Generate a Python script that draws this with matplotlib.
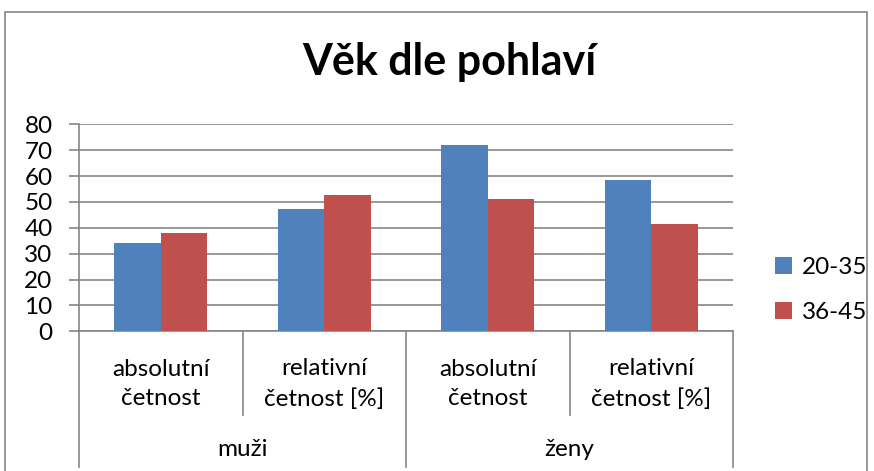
import matplotlib
matplotlib.use("Agg")
import matplotlib.pyplot as plt
from matplotlib.patches import Rectangle
from matplotlib.transforms import blended_transform_factory

plt.rcParams['font.family'] = ['Lato', 'DejaVu Sans']

# data
groups = ["muži", "ženy"]
subcats = ["absolutní\nčetnost", "relativní\nčetnost [%]"]
series_names = ["20-35", "36-45"]
vals_20_35 = [34, 47.2, 72, 58.5]
vals_36_45 = [38, 52.8, 51, 41.5]
colors = ["#4F81BD", "#C0504D"]
yticks = [0, 10, 20, 30, 40, 50, 60, 70, 80]

W, H = 874, 471
fig = plt.figure(figsize=(W / 100, H / 100), dpi=100)
ax = fig.add_axes([79 / W, 1 - 331.3 / H, (733 - 79) / W, (331.3 - 124.3) / H])

x = list(range(len(vals_20_35)))
bw = 0.285
b1 = ax.bar([i - bw / 2 for i in x], vals_20_35, bw, color=colors[0], label=series_names[0], zorder=3)
b2 = ax.bar([i + bw / 2 for i in x], vals_36_45, bw, color=colors[1], label=series_names[1], zorder=3)

grey = "#868686"
fs = 17.5
ax.set_xlim(-0.5, 3.5)
ax.set_ylim(0, 80)
ax.set_yticks(yticks)
ax.yaxis.grid(True, color=grey, linewidth=1.2, zorder=0)
ax.set_axisbelow(True)
ax.set_xticks([])
for s in ["top", "right"]:
    ax.spines[s].set_visible(False)
ax.spines["left"].set_color(grey)
ax.spines["bottom"].set_color(grey)
ax.spines["left"].set_linewidth(1.2)
ax.spines["bottom"].set_linewidth(1.2)
ax.tick_params(axis="y", length=7, width=1.2, color=grey, pad=12, labelsize=fs)

# multi-level category axis
tr = blended_transform_factory(ax.transData, fig.transFigure)
for xs in [-0.5, 1.5, 3.5]:
    ax.plot([xs, xs], [1 - 331.3 / H, 1 - 467 / H], color=grey, lw=1.2, transform=tr, clip_on=False)
for xs in [0.5, 2.5]:
    ax.plot([xs, xs], [1 - 331.3 / H, 1 - 415 / H], color=grey, lw=1.2, transform=tr, clip_on=False)
for i in x:
    ax.text(i, 1 - 384 / H, subcats[i % 2], transform=tr, ha="center", va="center",
            fontsize=fs, linespacing=1.5)
for g, name in enumerate(groups):
    ax.text(2 * g + 0.5, 1 - 450 / H, name, transform=tr, ha="center", va="center", fontsize=fs)

fig.text(449 / W, 1 - 62 / H, "Věk dle pohlaví", ha="center", va="center",
         fontsize=31, fontweight="bold")

fig.legend(handles=[b1, b2], labels=series_names, loc="center left",
           bbox_to_anchor=(753 / W, 1 - 290 / H), frameon=False, fontsize=fs,
           handlelength=0.7, handleheight=0.7, handletextpad=0.4, labelspacing=1.0)

fig.patches.append(Rectangle((5 / W, -0.1), (867 - 5) / W, 1.1 - 12 / H, transform=fig.transFigure,
                             fill=False, edgecolor=grey, linewidth=1.2, figure=fig))

fig.savefig("out.png", dpi=100, facecolor="white")
